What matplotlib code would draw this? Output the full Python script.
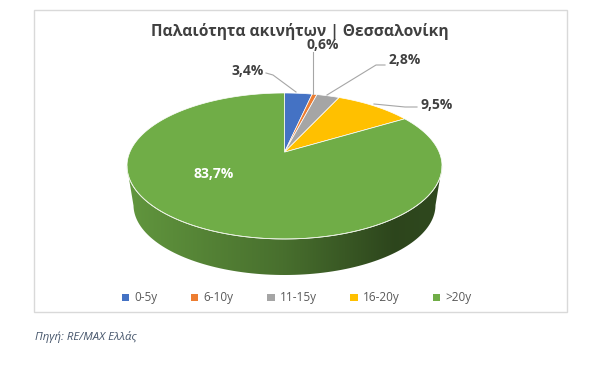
import numpy as np
import matplotlib
matplotlib.use("Agg")
import matplotlib.pyplot as plt
from matplotlib.patches import Polygon, Rectangle, Patch
from matplotlib.colors import to_rgb

# ---- data ----
title = "Παλαιότητα ακινήτων | Θεσσαλονίκη"
categories = ['0-5y', '6-10y', '11-15y', '16-20y', '>20y']
values = [3.4, 0.6, 2.8, 9.5, 83.7]
value_labels = ['3,4%', '0,6%', '2,8%', '9,5%', '83,7%']
colors = ['#4472C4', '#ED7D31', '#A5A5A5', '#FFC000', '#70AD47']
source = "Πηγή: RE/MAX Ελλάς"

W, H = 607, 377
fig = plt.figure(figsize=(W / 100, H / 100), dpi=100)
ax = fig.add_axes([0, 0, 1, 1])
ax.set_xlim(0, W)
ax.set_ylim(H, 0)
ax.axis('off')

FONT = ['Open Sans', 'DejaVu Sans']

# chart frame
ax.add_patch(Rectangle((34, 10), 533, 302, fill=False, ec='#D9D9D9', lw=1.0))

# geometry of the 3D pie (screen ellipse + perspective)
cx, cy, rx, ry = 284.5, 166.0, 157.5, 73.0
bcx, bcy, brx, bry = 284.5, 205.0, 151.0, 70.0
v = 0.19  # perspective shift of disc center toward far side


def proj(phi):
    """phi: angle (rad) clockwise from top on the real disc -> screen xy."""
    u, w = np.sin(phi), np.cos(phi)
    d = 1 + v * w
    up = u * np.sqrt(1 - v * v) / d
    wp = (w + v) / d
    return cx + rx * up, cy - ry * wp, np.arctan2(-wp, up)  # screen param t (y-down)


apex = (cx, cy - ry * v)
fracs = np.array(values) / np.sum(values)
bounds = np.concatenate([[0], np.cumsum(fracs)]) * 2 * np.pi

shade_s = [0.0, 0.5, 0.85, 1.0]
shade_f = [0.87, 0.64, 0.40, 0.42]

# sides (front half)
for i in range(len(values)):
    phis = np.linspace(bounds[i], bounds[i + 1], 200)
    _, _, ts = proj(phis)
    ts = np.mod(ts, 2 * np.pi)
    ts = ts[(ts >= 0) & (ts <= np.pi)]
    if len(ts) < 2:
        continue
    ts = np.sort(ts)
    tx = cx + rx * np.cos(ts)
    ty = cy + ry * np.sin(ts)
    bx = bcx + brx * np.cos(ts[::-1])
    by = bcy + bry * np.sin(ts[::-1])
    poly = Polygon(np.column_stack([np.r_[tx, bx], np.r_[ty, by]]), closed=True,
                   fc='none', ec='none')
    ax.add_patch(poly)
    xs = np.linspace(cx - rx, cx + rx, 400)
    s = (xs - (cx - rx)) / (2 * rx)
    f = np.interp(s, shade_s, shade_f)
    base = np.array(to_rgb(colors[i]))
    img = (base[None, :] * f[:, None])[None, :, :]
    im = ax.imshow(img, extent=(cx - rx, cx + rx, bcy + bry + 2, cy - 2),
                   aspect='auto', interpolation='bilinear', zorder=1)
    im.set_clip_path(poly)

ax.set_xlim(0, W)
ax.set_ylim(H, 0)

# top faces
for i in range(len(values)):
    phis = np.linspace(bounds[i], bounds[i + 1], 300)
    xs, ys, _ = proj(phis)
    pts = np.column_stack([np.r_[apex[0], xs], np.r_[apex[1], ys]])
    ax.add_patch(Polygon(pts, closed=True, fc=colors[i], ec='white', lw=0.5, zorder=2))

# light rim along front edge
tt = np.linspace(0, np.pi, 200)
ax.plot(cx + rx * np.cos(tt), cy + ry * np.sin(tt), color='#E8F0E0', lw=0.6, zorder=3)

# labels
lab_col = '#404040'
lab_pos = [(248, 71), (323, 45), (405, 60), (437, 105)]
leaders = [
    [(266, 73), (273, 75), (296, 92)],
    [(313, 52), (313, 94)],
    [(385, 65), (376, 65), (327, 95)],
    [(417, 107), (405, 107), (374, 104)],
]
for (x, y), txt, ln in zip(lab_pos, value_labels[:4], leaders):
    ax.text(x, y, txt, ha='center', va='center', fontsize=10, fontweight='bold',
            color=lab_col, family=FONT, zorder=5)
    lx, ly = zip(*ln)
    ax.plot(lx, ly, color='#A6A6A6', lw=0.8, zorder=4)

ax.text(214, 174, value_labels[4], ha='center', va='center', fontsize=10,
        fontweight='bold', color='white', family=FONT, zorder=5)

# title
ax.text(300, 31, title, ha='center', va='center', fontsize=11.2, fontweight='bold',
        color='#404040', family=FONT)

# legend
handles = [Patch(fc=c, ec='none', label=l) for c, l in zip(colors, categories)]
leg = fig.legend(handles=handles, ncol=5, loc='center',
                 bbox_to_anchor=(297 / W, 1 - 298 / H), frameon=False,
                 prop={'family': FONT, 'size': 8.5}, handlelength=0.6,
                 handleheight=0.6, handletextpad=0.45, columnspacing=2.85)
for t in leg.get_texts():
    t.set_color('#595959')

# source
ax.text(35, 337, source, ha='left', va='center', fontsize=8.2, style='italic',
        color='#44546A', family=FONT)

fig.savefig('out.png', dpi=100)
